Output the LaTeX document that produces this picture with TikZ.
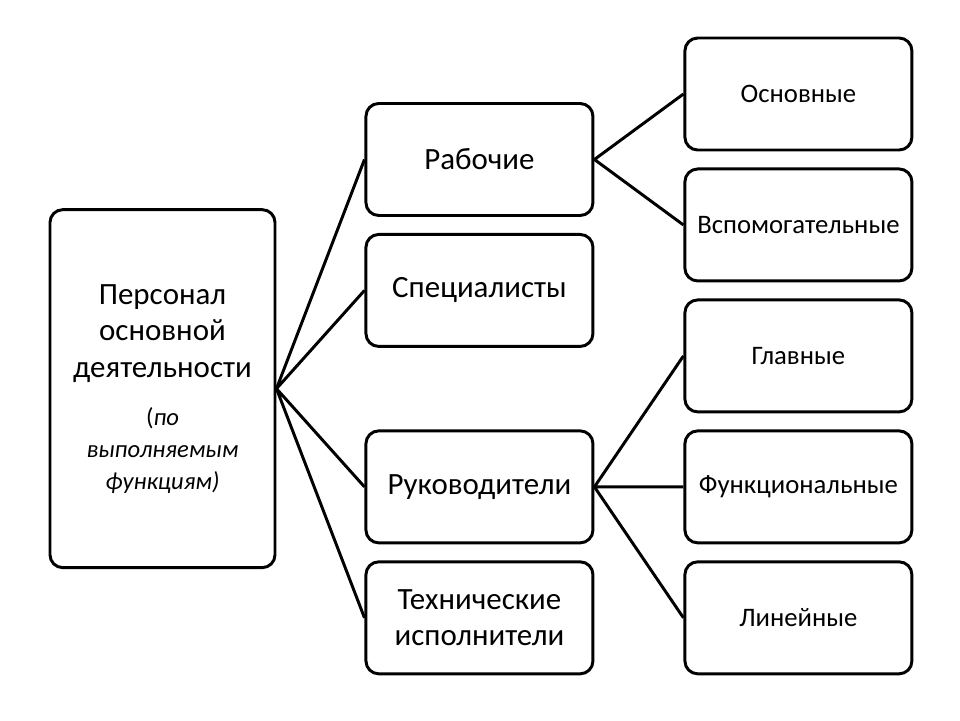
\documentclass[tikz,border=0pt]{standalone}
\usepackage{fontspec}
\setmainfont{Carlito}
\usetikzlibrary{
  positioning,  % Function "of" (e.g. [right=of x])
  calc,
}
\def\myhdist{2.225cm}
\def\myvdist{0.4cm}
\tikzset{
  my box/.style={
    draw,
    rounded corners=3.2mm,
    minimum width=5.675cm,
    minimum height=2.8cm,
    inner sep=1mm,
    align=center,
    font=\fontsize{22}{26}\selectfont
  },
  my box small/.style={
    my box,
    font=\fontsize{19}{22}\selectfont
  },
  my box high/.style={
    my box,
    minimum width=5.625cm,
    minimum height=8.95cm
  },
  chart/.style={
    line width=2.1pt,
    node distance=\myvdist and \myhdist
  }
}
\newcommand{\smallit}{\fontsize{17.5}{19.5}\selectfont\itshape}
\begin{document}
\begin{tikzpicture}[chart]
\useasboundingbox (0,0) rectangle (24,-18);
% right column
\node[my box small] (osn) at (19.96,-2.35) {Основные};
\node[my box small] (vsp)  [below=of osn]  {Вспомогательные};
\node[my box small] (glav) [below=of vsp]  {Главные};
\node[my box small] (func) [below=of glav] {Функциональные};
\node[my box small] (lin)  [below=of func] {Линейные};
% middle column
\path (osn.west) -- (vsp.west) coordinate[midway] (m1);
\node[my box] (rab)  [left=of m1]      {Рабочие};
\node[my box] (spec) [below=of rab]    {Специалисты};
\node[my box] (ruk)  [left=of func.west] {Руководители};
\node[my box] (tech) [left=of lin.west]  {Технические\\исполнители};
% left column
\path (spec.west) -- (ruk.west) coordinate[midway] (m2);
\node[my box high] (pers) [left=2.2cm of m2]
  {Персонал\\основной\\деятельности\\[3mm]
   \smallit\upshape(\itshape по\\[-3.5pt]\smallit выполняемым\\[-3.5pt]\smallit функциям)};
\draw (pers.east) -- (rab.west)
      (pers.east) -- (spec.west)
      (pers.east) -- (ruk.west)
      (pers.east) -- (tech.west);
\draw (rab.east) -- (osn.west)
      (rab.east) -- (vsp.west);
\draw (ruk.east) -- (glav.west)
      (ruk.east) -- (func.west)
      (ruk.east) -- (lin.west);
\end{tikzpicture}
\end{document}
